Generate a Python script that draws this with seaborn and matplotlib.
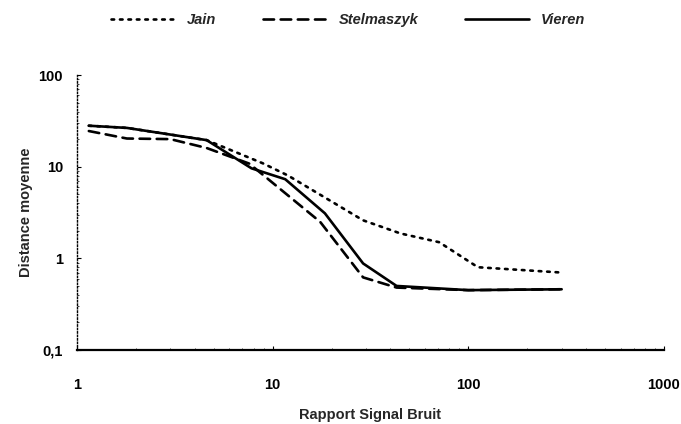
"""Distance moyenne vs rapport signal/bruit, three methods."""

import matplotlib

matplotlib.use("Agg")
import matplotlib.pyplot as plt
from matplotlib.ticker import FixedLocator, FixedFormatter, NullFormatter
import pandas as pd
import seaborn as sns


snr_jain = [1.15, 1.8, 4.6, 8.9, 12.0, 29.0, 45.0, 71.0, 112.0, 300.0]
dist_jain = [28.0, 26.5, 19.5, 10.9, 8.0, 2.6, 1.87, 1.5, 0.80, 0.70]

snr_stel = [1.15, 1.8, 3.0, 4.6, 7.6, 17.5, 29.0, 43.0, 100.0, 300.0]
dist_stel = [24.5, 20.3, 20.0, 16.0, 10.8, 2.5, 0.62, 0.48, 0.45, 0.46]

snr_vieren = [1.15, 1.8, 4.6, 7.8, 11.6, 18.5, 29.0, 43.0, 100.0, 300.0]
dist_vieren = [28.0, 26.5, 19.5, 9.6, 7.3, 3.1, 0.88, 0.50, 0.45, 0.46]

x_ticks = [1, 10, 100, 1000]
x_labels = ["1", "10", "100", "1000"]
y_ticks = [0.1, 1, 10, 100]
y_labels = ["0,1", "1", "10", "100"]

series = [
    ("Jain", snr_jain, dist_jain, (0, (1, 2.2))),
    ("Stelmaszyk", snr_stel, dist_stel, (0, (4, 2.5))),
    ("Vieren", snr_vieren, dist_vieren, "-"),
]

sns.set_style("white")
plt.rcParams["font.family"] = ["Liberation Sans", "DejaVu Sans"]

fig = plt.figure(figsize=(6.81, 4.24), dpi=100)
ax = fig.add_axes([0.113, 0.1745, 0.862, 0.6485])

for name, xs, ys, style in series:
    df = pd.DataFrame({"snr": xs, "dist": ys})
    sns.lineplot(
        data=df,
        x="snr",
        y="dist",
        ax=ax,
        color="black",
        linewidth=1.9,
        linestyle=style,
        dash_capstyle="round",
        label=name,
    )

ax.set_xscale("log")
ax.set_yscale("log")
ax.set_xlim(1, 1000)
ax.set_ylim(0.1, 100)

ax.xaxis.set_major_locator(FixedLocator(x_ticks))
ax.xaxis.set_major_formatter(FixedFormatter(x_labels))
ax.yaxis.set_major_locator(FixedLocator(y_ticks))
ax.yaxis.set_major_formatter(FixedFormatter(y_labels))
ax.xaxis.set_minor_formatter(NullFormatter())
ax.yaxis.set_minor_formatter(NullFormatter())

ax.tick_params(axis="both", which="major", direction="in", length=3, width=0.8,
               labelsize=10.5, colors="black")
ax.tick_params(axis="x", which="major", pad=20)
ax.tick_params(axis="y", which="major", pad=10)
ax.tick_params(axis="both", which="minor", direction="in", length=1.5, width=0.6)
ax.tick_params(axis="x", which="both", bottom=True, top=False)
ax.tick_params(axis="y", which="both", left=True, right=False)
for lab in ax.get_xticklabels() + ax.get_yticklabels():
    lab.set_fontweight("bold")

for side in ["top", "right"]:
    ax.spines[side].set_visible(False)
ax.spines["bottom"].set_color("black")
ax.spines["bottom"].set_linewidth(1.6)
ax.spines["left"].set_color("black")
ax.spines["left"].set_linewidth(1.0)
ax.spines["left"].set_linestyle((0, (1, 1.5)))

ax.set_xlabel("Rapport Signal Bruit", fontsize=10.5, fontweight="bold", labelpad=12)
ax.set_ylabel("Distance moyenne", fontsize=10.5, fontweight="bold", labelpad=4)

ax.get_legend().remove()
handles, labels = ax.get_legend_handles_labels()
fig.legend(
    handles,
    labels,
    loc="upper center",
    bbox_to_anchor=(0.511, 1.0),
    ncol=3,
    frameon=False,
    handlelength=4.4,
    columnspacing=3.2,
    prop={"style": "italic", "weight": "bold", "size": 10.5},
)

fig.savefig("out.png", dpi=100)
plt.close(fig)
